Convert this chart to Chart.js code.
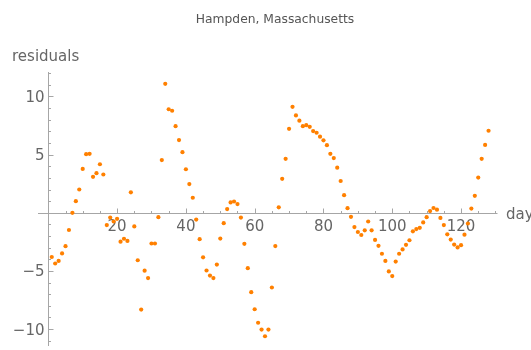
<!DOCTYPE html>
<html>
<head>
<meta charset="utf-8">
<script src="https://cdn.jsdelivr.net/npm/chart.js@4"></script>
<style>
  html, body { margin: 0; padding: 0; background: #fff; }
  canvas { display: block; }
</style>
</head>
<body>
<canvas id="chartResiduals" width="531" height="350"></canvas>
<script>
var titlu = "Hampden, Massachusetts";
var etichetaX = "days", etichetaY = "residuals";

var zile = [1, 2, 3, 4, 5, 6, 7, 8, 9, 10, 11, 12, 13, 14, 15, 16, 17, 18, 19, 20,
    21, 22, 23, 24, 25, 26, 27, 28, 29, 30, 31, 32, 33, 34, 35, 36, 37, 38, 39, 40,
    41, 42, 43, 44, 45, 46, 47, 48, 49, 50, 51, 52, 53, 54, 55, 56, 57, 58, 59, 60,
    61, 62, 63, 64, 65, 66, 67, 68, 69, 70, 71, 72, 73, 74, 75, 76, 77, 78, 79, 80,
    81, 82, 83, 84, 85, 86, 87, 88, 89, 90, 91, 92, 93, 94, 95, 96, 97, 98, 99, 100,
    101, 102, 103, 104, 105, 106, 107, 108, 109, 110, 111, 112, 113, 114, 115, 116, 117, 118, 119, 120,
    121, 122, 123, 124, 125, 126, 127, 128];

var reziduuri = [-3.8, -4.36, -4.14, -3.49, -2.87, -1.48, 0.0, 1.0, 2.0, 3.77,
    5.04, 5.07, 3.09, 3.4, 4.17, 3.29, -1.06, -0.41, -0.75, -0.52,
    -2.48, -2.23, -2.42, 1.76, -1.17, -4.08, -8.32, -4.98, -5.61, -2.64,
    -2.64, -0.38, 4.53, 11.08, 8.9, 8.77, 7.44, 6.25, 5.21, 3.74,
    2.47, 1.29, -0.58, -2.27, -3.83, -4.96, -5.4, -5.61, -4.45, -2.22,
    -0.89, 0.32, 0.89, 0.97, 0.75, -0.41, -2.67, -4.76, -6.82, -8.29,
    -9.45, -10.04, -10.61, -10.04, -6.42, -2.86, 0.47, 2.92, 4.64, 7.22,
    9.11, 8.37, 7.92, 7.44, 7.53, 7.39, 7.02, 6.88, 6.54, 6.23,
    5.81, 5.07, 4.7, 3.88, 2.73, 1.51, 0.4, -0.35, -1.23, -1.65,
    -1.91, -1.51, -0.75, -1.51, -2.33, -2.84, -3.52, -4.14, -5.04, -5.44,
    -4.19, -3.52, -3.15, -2.75, -2.36, -1.59, -1.4, -1.29, -0.83, -0.38,
    0.15, 0.41, 0.27, -0.44, -1.06, -1.85, -2.3, -2.73, -2.98, -2.78,
    -1.88, -0.92, 0.36, 1.46, 3.03, 4.64, 5.83, 7.05];

var tickX = [20, 40, 60, 80, 100, 120];
var eticheteX = ["20", "40", "60", "80", "100", "120"];
var tickXMinor = [5, 10, 15, 25, 30, 35, 45, 50, 55, 65, 70, 75, 85, 90, 95, 105, 110, 115, 125, 130];
var tickY = [-10, -5, 5, 10];
var eticheteY = ["\u221210", "\u22125", "5", "10"];
var tickYMinor = [-11, -9, -8, -7, -6, -4, -3, -2, -1, 1, 2, 3, 4, 6, 7, 8, 9, 11, 12];

var puncte = [];
for (var i = 0; i < zile.length; i++) {
    puncte.push({ x: zile[i], y: reziduuri[i] });
}

var fontText = "'DejaVu Sans', sans-serif";

// axe in stil Mathematica, desenate prin scalele Chart.js
var axePlugin = {
    id: 'axe',
    beforeDatasetsDraw: function (chart) {
        var ctx = chart.ctx;
        var sx = chart.scales.x, sy = chart.scales.y;
        var x0 = Math.round(sx.getPixelForValue(0)) + 0.5;
        var y0 = Math.round(sy.getPixelForValue(0)) + 0.5;
        ctx.save();
        ctx.strokeStyle = '#a6a6a6';
        ctx.lineWidth = 1;
        ctx.beginPath();
        ctx.moveTo(sx.left, y0); ctx.lineTo(sx.right, y0);
        ctx.moveTo(x0, sy.top); ctx.lineTo(x0, sy.bottom);
        for (var i = 0; i < tickX.length; i++) {
            var px = Math.round(sx.getPixelForValue(tickX[i])) + 0.5;
            ctx.moveTo(px, y0); ctx.lineTo(px, y0 - 5);
        }
        for (var i = 0; i < tickXMinor.length; i++) {
            var px = Math.round(sx.getPixelForValue(tickXMinor[i])) + 0.5;
            ctx.moveTo(px, y0); ctx.lineTo(px, y0 - 2.5);
        }
        for (var i = 0; i < tickY.length; i++) {
            var py = Math.round(sy.getPixelForValue(tickY[i])) + 0.5;
            ctx.moveTo(x0, py); ctx.lineTo(x0 + 5, py);
        }
        for (var i = 0; i < tickYMinor.length; i++) {
            var py = Math.round(sy.getPixelForValue(tickYMinor[i])) + 0.5;
            ctx.moveTo(x0, py); ctx.lineTo(x0 + 2.5, py);
        }
        ctx.stroke();

        ctx.fillStyle = '#666';
        ctx.font = '15px ' + fontText;
        ctx.textBaseline = 'alphabetic';
        ctx.textAlign = 'center';
        for (var i = 0; i < tickX.length; i++) {
            ctx.fillText(eticheteX[i], sx.getPixelForValue(tickX[i]), y0 + 17);
        }
        ctx.textAlign = 'right';
        for (var i = 0; i < tickY.length; i++) {
            ctx.fillText(eticheteY[i], x0 - 4, sy.getPixelForValue(tickY[i]) + 5.5);
        }
        ctx.textAlign = 'left';
        ctx.fillText(etichetaY, 12, 61);
        ctx.fillText(etichetaX, 506, y0 + 5);

        ctx.fillStyle = '#555';
        ctx.font = '12.3px ' + fontText;
        ctx.textAlign = 'center';
        ctx.fillText(titlu, 275, 23);
        ctx.restore();
    }
};

var ctx1 = document.getElementById('chartResiduals').getContext('2d');
var chartResiduals = new Chart(ctx1, {
    type: 'scatter',
    data: {
        datasets: [{
            data: puncte,
            backgroundColor: '#ff8000',
            borderWidth: 0,
            pointRadius: 2.1
        }]
    },
    options: {
        responsive: false,
        animation: false,
        devicePixelRatio: 1,
        layout: { padding: { left: 38, right: 33.5, top: 72, bottom: 0.1 } },
        plugins: { legend: { display: false }, tooltip: { enabled: false } },
        scales: {
            x: { type: 'linear', min: -3, max: 130.6, display: false },
            y: { type: 'linear', min: -11.45, max: 12.1, display: false }
        }
    },
    plugins: [axePlugin]
});
</script>
</body>
</html>
